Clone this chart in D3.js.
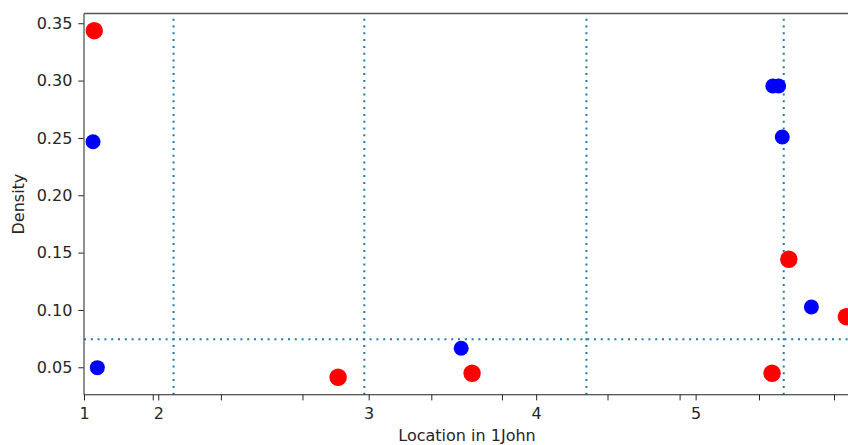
<!DOCTYPE html>
<html>
<head>
<meta charset="utf-8">
<script src="https://cdn.jsdelivr.net/npm/d3@7"></script>
<style>
  body { margin: 0; background: #fff; }
  svg { display: block; }
  text { font-family: "DejaVu Sans", sans-serif; fill: #262626; }
</style>
</head>
<body>
<div id="chart"></div>
<script>
const width = 848;
const height = 445;
const fontSize = "16px";

// plot box (right edge runs past the picture, as in the reference)
const margin = { top: 13.5, left: 84, bottom: 50.3, right: -10 };

// data, location in verses, density
const redX = [1.41, 34.9, 53.3, 94.5, 96.8, 104.7];
const redY = [0.3435, 0.0413, 0.0448, 0.0448, 0.1442, 0.0941];
const blueX = [1.24, 1.83, 51.8, 94.6, 95.4, 95.9, 99.9];
const blueY = [0.2467, 0.0497, 0.0666, 0.2953, 0.2953, 0.2508, 0.1026];

// reference lines
const vLines = [12.3, 38.5, 69.0, 96.1];
const hLine = 0.0744;

// ticks
const chapterTicks = [0, 10.2, 39.1, 62.1, 84.0];
const chapterLabels = ["1", "2", "3", "4", "5"];
const minorTicks = [9.44, 18.8, 30.0, 47.7, 57.4, 71.9, 81.8, 92.7, 103.0];
const yTicks = [0.05, 0.10, 0.15, 0.20, 0.25, 0.30, 0.35];

const xScale = d3.scaleLinear()
    .domain([0, 106.3])
    .range([margin.left, width - margin.right]);
const yScale = d3.scaleLinear()
    .domain([0.0261, 0.3585])
    .range([height - margin.bottom, margin.top]);

const svg = d3.select("#chart").append("svg")
    .attr("width", width).attr("height", height);

svg.append("defs").append("clipPath").attr("id", "plotclip")
    .append("rect")
    .attr("x", margin.left).attr("y", margin.top)
    .attr("width", xScale.range()[1] - margin.left)
    .attr("height", yScale.range()[0] - margin.top);

const plot = svg.append("g").attr("clip-path", "url(#plotclip)");

// dotted lines
plot.selectAll("line.vline")
    .data(vLines)
    .join("line")
    .attr("class", "vline")
    .attr("x1", d => xScale(d)).attr("x2", d => xScale(d))
    .attr("y1", yScale.range()[0]).attr("y2", yScale.range()[1])
    .style("stroke", "#1f77b4")
    .style("stroke-width", 2)
    .style("stroke-dasharray", "2,4.8");

plot.append("line")
    .attr("x1", xScale.range()[0]).attr("x2", xScale.range()[1])
    .attr("y1", yScale(hLine)).attr("y2", yScale(hLine))
    .style("stroke", "#1f77b4")
    .style("stroke-width", 2)
    .style("stroke-dasharray", "2,4.8");

// points
plot.selectAll("circle.blue")
    .data(blueX.map((x, i) => ({ x: x, y: blueY[i] })))
    .join("circle")
    .attr("class", "blue")
    .attr("cx", d => xScale(d.x))
    .attr("cy", d => yScale(d.y))
    .attr("r", 7.5)
    .attr("fill", "#0000ff");

plot.selectAll("circle.red")
    .data(redX.map((x, i) => ({ x: x, y: redY[i] })))
    .join("circle")
    .attr("class", "red")
    .attr("cx", d => xScale(d.x))
    .attr("cy", d => yScale(d.y))
    .attr("r", 8.7)
    .attr("fill", "#ff0000");

// axes
const yAxis = svg.append("g")
    .attr("transform", `translate(${margin.left},0)`)
    .call(d3.axisLeft(yScale).tickValues(yTicks).tickFormat(d3.format(".2f"))
        .tickSize(5.7).tickPadding(6));
yAxis.select(".domain").remove();
yAxis.selectAll("text").style("font-size", fontSize).style("fill", "#262626");
yAxis.selectAll("line").style("stroke", "#262626");

const xAxis = svg.append("g")
    .attr("transform", `translate(0,${yScale.range()[0]})`)
    .call(d3.axisBottom(xScale).tickValues(chapterTicks)
        .tickFormat((d, i) => chapterLabels[i]).tickSize(5.7).tickPadding(7));
xAxis.select(".domain").remove();
xAxis.selectAll("text").style("font-size", fontSize).style("fill", "#262626");
xAxis.selectAll("line").style("stroke", "#262626");

const xMinor = svg.append("g")
    .attr("transform", `translate(0,${yScale.range()[0]})`)
    .call(d3.axisBottom(xScale).tickValues(minorTicks).tickFormat("").tickSize(5.7));
xMinor.select(".domain").remove();
xMinor.selectAll("line").style("stroke", "#262626");

// spines
svg.append("line")
    .attr("x1", margin.left).attr("x2", width)
    .attr("y1", margin.top).attr("y2", margin.top)
    .style("stroke", "#555").style("stroke-width", 1.3);
svg.append("line")
    .attr("x1", margin.left).attr("x2", margin.left)
    .attr("y1", margin.top).attr("y2", yScale.range()[0])
    .style("stroke", "#555").style("stroke-width", 1.3);
svg.append("line")
    .attr("x1", margin.left).attr("x2", width)
    .attr("y1", yScale.range()[0]).attr("y2", yScale.range()[0])
    .style("stroke", "#222").style("stroke-width", 1.1);

// axis titles
svg.append("text")
    .attr("x", 467).attr("y", 440.5)
    .attr("text-anchor", "middle")
    .style("font-size", fontSize)
    .text("Location in 1John");

svg.append("text")
    .attr("transform", `translate(24,${(margin.top + yScale.range()[0]) / 2}) rotate(-90)`)
    .attr("text-anchor", "middle")
    .style("font-size", fontSize)
    .text("Density");
</script>
</body>
</html>
